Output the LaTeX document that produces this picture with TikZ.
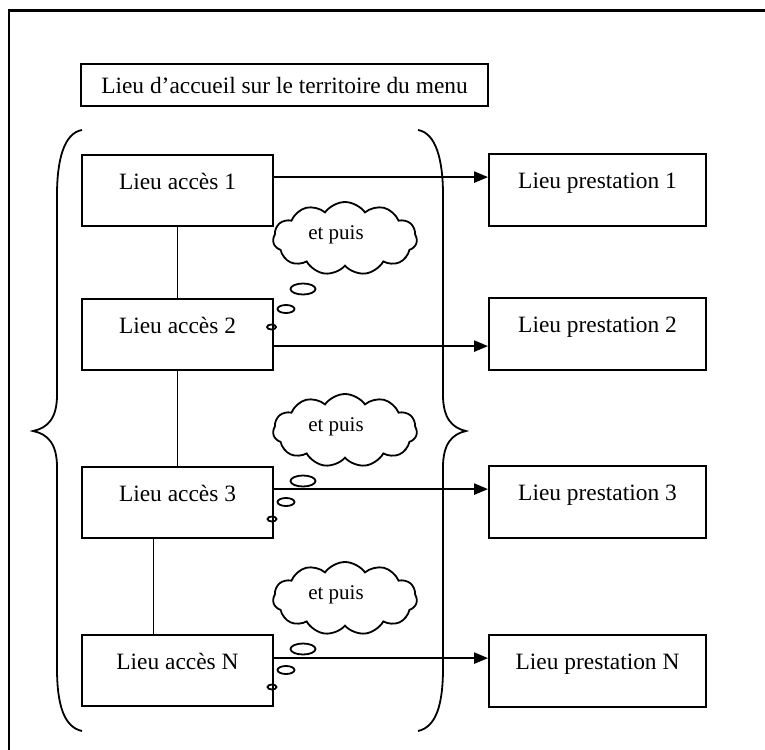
\documentclass[tikz,border=0pt]{standalone}
\usepackage{fontspec}
\setmainfont{Liberation Serif}
\usetikzlibrary{shapes.symbols,arrows.meta}
\begin{document}
\begin{tikzpicture}[x=0.5pt,y=-0.5pt,
  leftbox/.style={draw,line width=0.9pt,minimum width=95.5pt,minimum height=35.5pt,
    inner ysep=0pt,text height=17pt,text depth=18.5pt,font=\fontsize{11.7}{14}\selectfont},
  rightbox/.style={draw,line width=0.9pt,minimum width=108.5pt,minimum height=36pt,
    inner ysep=0pt,text height=17pt,text depth=19pt,font=\fontsize{11.7}{14}\selectfont},
  titlebox/.style={draw,line width=0.9pt,minimum width=203.5pt,minimum height=21pt,
    inner sep=0pt,font=\fontsize{11.7}{14}\selectfont},
  cloudy/.style={cloud,draw,line width=0.9pt,cloud puffs=11,cloud puff arc=110,
    minimum width=72pt,minimum height=36.5pt,inner sep=0pt,aspect=2},
  cloudtext/.style={font=\fontsize{10.5}{12}\selectfont,xshift=-4.5pt,yshift=1.75pt},
  arr/.style={line width=1.1pt,-{Triangle[length=7pt,width=5.5pt]}},
  link/.style={line width=0.85pt},
  bubble/.style={line width=0.9pt},
  bracestyle/.style={line width=0.9pt}
]
\useasboundingbox (0,0) rectangle (765,749);
\begin{scope}
  \clip (0,0) rectangle (765,749);
  \draw[line width=1.2pt] (9,10.5) rectangle (800,800);
\end{scope}

\node[titlebox] (t) at (284.5,85) {Lieu d’accueil sur le territoire du menu};

\node[leftbox] (a1) at (177.5,190.5) {Lieu accès 1};
\node[leftbox] (a2) at (177.5,334.5) {Lieu accès 2};
\node[leftbox] (a3) at (177.5,502.5) {Lieu accès 3};
\node[leftbox] (aN) at (177.5,670.5) {Lieu accès N};

\node[rightbox] (p1) at (597.5,190) {Lieu prestation 1};
\node[rightbox] (p2) at (597.5,334) {Lieu prestation 2};
\node[rightbox] (p3) at (597.5,502) {Lieu prestation 3};
\node[rightbox] (pN) at (597.5,671) {Lieu prestation N};

\draw[link] (a1.south) -- (a2.north);
\draw[link] (a2.south) -- (a3.north);
\draw[link] ([xshift=-12pt]a3.south) -- ([xshift=-12pt]aN.north);

\coordinate (s1) at ([yshift=-11.5pt]a1.north east);
\coordinate (s2) at ([yshift=-24pt]a2.north east);
\coordinate (s3) at ([yshift=-11.5pt]a3.north east);
\coordinate (sN) at ([yshift=-12pt]aN.north east);
\draw[arr] (s1) -- (s1 -| p1.west);
\draw[arr] (s2) -- (s2 -| p2.west);
\draw[arr] (s3) -- (s3 -| p3.west);
\draw[arr] (sN) -- (sN -| pN.west);

% braces
\draw[bracestyle] (82,130) .. controls (64,133) and (57,160) .. (57,195) -- (57,395)
  .. controls (57,418) and (48,428) .. (33,431) .. controls (48,434) and (57,444) .. (57,467)
  -- (57,668) .. controls (57,705) and (64,727) .. (82,731);
\draw[bracestyle] (418,130) .. controls (436,133) and (443,160) .. (443,195) -- (443,395)
  .. controls (443,418) and (452,428) .. (466,431) .. controls (452,434) and (443,444) .. (443,467)
  -- (443,668) .. controls (443,705) and (436,727) .. (418,731);

% thought clouds
\node[cloudy,label={[cloudtext]center:et puis}] (c1) at (345,238.5) {};
\node[cloudy,label={[cloudtext]center:et puis}] (c2) at (345,430.5) {};
\node[cloudy,label={[cloudtext]center:et puis}] (c3) at (345,598.5) {};

\draw[bubble] (303,289) ellipse [x radius=6.25pt,y radius=2.75pt];
\draw[bubble] (286,309) ellipse [x radius=4.25pt,y radius=2pt];
\draw[bubble] (271.5,327) ellipse [x radius=2.25pt,y radius=1.25pt];

\draw[bubble] (303,481) ellipse [x radius=6.25pt,y radius=2.75pt];
\draw[bubble] (286,502) ellipse [x radius=4.25pt,y radius=2pt];
\draw[bubble] (272,519) ellipse [x radius=2.25pt,y radius=1.25pt];

\draw[bubble] (303,649) ellipse [x radius=6.25pt,y radius=2.75pt];
\draw[bubble] (286,670) ellipse [x radius=4.25pt,y radius=2pt];
\draw[bubble] (272,687) ellipse [x radius=2.25pt,y radius=1.25pt];
\end{tikzpicture}
\end{document}
